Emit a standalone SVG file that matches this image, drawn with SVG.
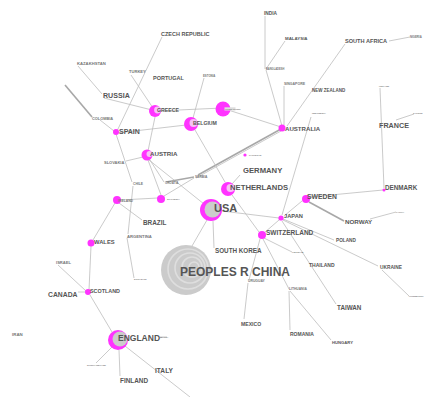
<svg xmlns="http://www.w3.org/2000/svg" width="425" height="397" viewBox="0 0 425 397">
<style>
.e{stroke:#bdbdbd;stroke-width:0.8;fill:none}
.e2{stroke:#a8a8a8;stroke-width:1.6;fill:none}
.n{fill:#ff33ff}
.in{fill:#f6c2f6}
.t{font-family:"Liberation Sans",Arial,sans-serif;font-weight:bold;fill:#555}
.s{font-family:"Liberation Sans",Arial,sans-serif;font-weight:bold;fill:#777}
</style>
<rect width="425" height="397" fill="#fff"/>
<g id="edges">
<line class="e" x1="265" y1="16" x2="265" y2="69"/>
<line class="e" x1="266" y1="69" x2="285" y2="41"/>
<line class="e" x1="266" y1="70" x2="282" y2="126"/>
<line class="e" x1="284" y1="86" x2="284" y2="125"/>
<line class="e" x1="345" y1="44" x2="287" y2="126"/>
<line class="e" x1="389" y1="41" x2="410" y2="37"/>
<line class="e" x1="222" y1="108" x2="281" y2="127"/>
<line class="e" x1="157" y1="111" x2="222" y2="108"/>
<line class="e" x1="104" y1="98" x2="152" y2="110"/>
<line class="e" x1="78" y1="66" x2="102" y2="94"/>
<line class="e" x1="131" y1="75" x2="153" y2="108"/>
<line class="e" x1="162" y1="37" x2="117" y2="131"/>
<line class="e" x1="117" y1="133" x2="186" y2="125"/>
<line class="e" x1="204" y1="78" x2="193" y2="118"/>
<line class="e" x1="155" y1="117" x2="148" y2="151"/>
<line class="e2" x1="65" y1="85" x2="92" y2="117"/>
<line class="e" x1="100" y1="120" x2="114" y2="131"/>
<line class="e" x1="116" y1="134" x2="132" y2="182"/>
<line class="e" x1="133" y1="186" x2="128" y2="234"/>
<line class="e" x1="127" y1="238" x2="134" y2="278"/>
<line class="e" x1="126" y1="161" x2="143" y2="157"/>
<line class="e" x1="149" y1="160" x2="204" y2="204"/>
<line class="e" x1="148" y1="160" x2="161" y2="195"/>
<line class="e" x1="150" y1="160" x2="164" y2="182"/>
<line class="e2" x1="166" y1="182" x2="194" y2="177"/>
<line class="e" x1="164" y1="196" x2="194" y2="178"/>
<line class="e2" x1="198" y1="175" x2="281" y2="129"/>
<line class="e" x1="196" y1="178" x2="281" y2="131"/>
<line class="e" x1="120" y1="200" x2="158" y2="198"/>
<line class="e" x1="119" y1="203" x2="142" y2="220"/>
<line class="e" x1="115" y1="203" x2="93" y2="240"/>
<line class="e" x1="91" y1="246" x2="89" y2="290"/>
<line class="e" x1="78" y1="292" x2="86" y2="292"/>
<line class="e" x1="58" y1="265" x2="86" y2="291"/>
<line class="e" x1="90" y1="295" x2="112" y2="332"/>
<line class="e" x1="112" y1="347" x2="96" y2="363"/>
<line class="e" x1="119" y1="350" x2="120" y2="376"/>
<line class="e" x1="125" y1="346" x2="190" y2="397"/>
<line class="e" x1="160" y1="337" x2="167" y2="337"/>
<line class="e" x1="207" y1="220" x2="192" y2="246"/>
<line class="e" x1="213" y1="221" x2="214" y2="248"/>
<line class="e" x1="222" y1="211" x2="279" y2="218"/>
<line class="e" x1="195" y1="130" x2="225" y2="182"/>
<line class="e" x1="232" y1="195" x2="259" y2="232"/>
<line class="e" x1="232" y1="184" x2="240" y2="175"/>
<line class="e" x1="264" y1="233" x2="279" y2="220"/>
<line class="e" x1="284" y1="216" x2="302" y2="201"/>
<line class="e" x1="310" y1="197" x2="383" y2="190"/>
<line class="e2" x1="309" y1="202" x2="344" y2="221"/>
<line class="e" x1="370" y1="219" x2="396" y2="212"/>
<line class="e" x1="283" y1="219" x2="334" y2="240"/>
<line class="e" x1="283" y1="220" x2="378" y2="266"/>
<line class="e" x1="382" y1="270" x2="409" y2="296"/>
<line class="e" x1="282" y1="221" x2="336" y2="304"/>
<line class="e" x1="264" y1="238" x2="292" y2="252"/>
<line class="e" x1="263" y1="239" x2="289" y2="289"/>
<line class="e" x1="289" y1="291" x2="290" y2="330"/>
<line class="e" x1="290" y1="291" x2="331" y2="340"/>
<line class="e" x1="260" y1="239" x2="249" y2="280"/>
<line class="e" x1="248" y1="283" x2="244" y2="319"/>
<line class="e" x1="311" y1="117" x2="282" y2="215"/>
<line class="e" x1="380" y1="88" x2="384" y2="188"/>
<line class="e" x1="396" y1="120" x2="414" y2="114"/>
</g>
<g id="china">
<circle cx="186" cy="270" r="25" fill="#cbcbcb"/>
<circle cx="188" cy="269" r="20" fill="none" stroke="#dedede" stroke-width="1.6"/>
<circle cx="190" cy="268" r="15" fill="none" stroke="#dedede" stroke-width="1.6"/>
<circle cx="192" cy="267" r="10" fill="none" stroke="#dedede" stroke-width="1.6"/>
<circle cx="194" cy="267" r="5" fill="none" stroke="#dedede" stroke-width="1.4"/>
<text class="t" x="180" y="276" font-size="12">PEOPLES R CHINA</text>
</g>
<g id="usa"><circle class="n" cx="211" cy="210" r="11"/><circle cx="212.5" cy="209.5" r="8" fill="#cccccc"/><text class="t" x="214" y="212" font-size="11">USA</text></g>
<g id="england"><circle class="n" cx="118" cy="340" r="10"/><circle cx="120" cy="339" r="7.5" fill="#cccccc"/><text class="t" x="118" y="340.5" font-size="8.5">ENGLAND</text><text class="s" x="160" y="337.5" font-size="2.5">MALTA</text></g>
<g id="netherlands"><circle class="n" cx="228" cy="189" r="7"/><circle class="in" cx="230.5" cy="188" r="4"/><text class="t" x="230" y="189.5" font-size="7.7">NETHERLANDS</text></g>
<g id="germany"><text class="t" x="243" y="173" font-size="7.7">GERMANY</text></g>
<g id="pakistan"><circle class="n" cx="245" cy="155" r="1.6"/><text class="s" x="249" y="156" font-size="2.5">PAKISTAN</text></g>
<g id="switzerland"><circle class="n" cx="262" cy="235" r="4"/><text class="t" x="266" y="235" font-size="6.5">SWITZERLAND</text></g>
<g id="japan"><circle class="n" cx="281" cy="218" r="2.6"/><text class="t" x="284" y="218" font-size="5.7">JAPAN</text></g>
<g id="southkorea"><text class="t" x="215" y="253.3" font-size="6.3">SOUTH KOREA</text></g>
<g id="sweden"><circle class="n" cx="306" cy="199" r="4"/><text class="t" x="307" y="199.3" font-size="6.8">SWEDEN</text></g>
<g id="denmark"><circle class="n" cx="384" cy="190" r="1.5"/><text class="t" x="385" y="190.3" font-size="6.3">DENMARK</text></g>
<g id="norway"><text class="t" x="345" y="223.7" font-size="6.2">NORWAY</text><text class="s" x="396" y="213" font-size="2.3">LATVIA</text></g>
<g id="poland"><text class="t" x="336" y="242" font-size="4.7">POLAND</text></g>
<g id="france"><text class="t" x="379" y="128.3" font-size="7.2">FRANCE</text><text class="s" x="379" y="87" font-size="2.3">ICELAND</text><text class="s" x="413" y="114" font-size="2.3">CYPRUS</text></g>
<g id="southafrica"><text class="t" x="345" y="43.3" font-size="5.6">SOUTH AFRICA</text><text class="s" x="410" y="37.5" font-size="2.8">NIGERIA</text></g>
<g id="newzealand"><text class="t" x="312" y="92" font-size="4.5">NEW ZEALAND</text></g>
<g id="australia"><circle class="n" cx="282" cy="128" r="3.5"/><text class="t" x="285" y="130.7" font-size="6.1">AUSTRALIA</text><text class="s" x="312" y="114" font-size="2.5">INDONESIA</text></g>
<g id="india"><text class="t" x="264" y="15" font-size="4.8">INDIA</text><text class="s" x="266" y="70" font-size="2.6">BANGLADESH</text></g>
<g id="malaysia"><text class="t" x="285" y="39.7" font-size="4.4">MALAYSIA</text></g>
<g id="singapore"><text class="s" x="284" y="84.5" font-size="3.5">SINGAPORE</text></g>
<g id="hk"><circle class="n" cx="223" cy="109" r="7.5"/><rect x="224.5" y="107.3" width="11" height="3.2" fill="#ddd"/><text class="s" x="225" y="109.8" font-size="2.5">HONG KONG</text></g>
<g id="czech"><text class="t" x="161" y="35.7" font-size="5.5">CZECH REPUBLIC</text></g>
<g id="turkey"><text class="s" x="129" y="73.3" font-size="4.1">TURKEY</text></g>
<g id="portugal"><text class="t" x="153" y="79.7" font-size="5.5">PORTUGAL</text></g>
<g id="estonia"><text class="s" x="203" y="76.5" font-size="2.8">ESTONIA</text></g>
<g id="russia"><text class="t" x="103" y="97.7" font-size="7.1">RUSSIA</text></g>
<g id="kazakhstan"><text class="s" x="77" y="65" font-size="4.2">KAZAKHSTAN</text></g>
<g id="colombia"><text class="s" x="92" y="120" font-size="3.9">COLOMBIA</text></g>
<g id="greece"><circle class="n" cx="155" cy="111" r="6"/><circle class="in" cx="157.5" cy="110" r="3.4"/><text class="t" x="157" y="111.7" font-size="5.2">GREECE</text></g>
<g id="belgium"><circle class="n" cx="191" cy="124" r="7"/><circle class="in" cx="193.5" cy="123" r="4"/><text class="t" x="193" y="125" font-size="5.2">BELGIUM</text></g>
<g id="spain"><circle class="n" cx="116" cy="132" r="3"/><text class="t" x="119" y="134" font-size="7">SPAIN</text></g>
<g id="austria"><circle class="n" cx="147" cy="155" r="5.5"/><circle class="in" cx="149.5" cy="154" r="3"/><text class="t" x="150" y="156.3" font-size="6.2">AUSTRIA</text></g>
<g id="slovakia"><text class="s" x="104" y="163.7" font-size="4">SLOVAKIA</text></g>
<g id="chile"><text class="s" x="133" y="185" font-size="3.3">CHILE</text></g>
<g id="serbia"><text class="s" x="195" y="177.5" font-size="3.3">SERBIA</text></g>
<g id="croatia"><text class="s" x="165" y="184" font-size="3">CROATIA</text></g>
<g id="slovenia"><circle class="n" cx="161" cy="199" r="4"/><text class="s" x="167" y="199.8" font-size="2.5">SLOVENIA</text></g>
<g id="ireland"><circle class="n" cx="117" cy="200" r="4"/><text class="s" x="118" y="201.5" font-size="3.4">IRELAND</text></g>
<g id="brazil"><text class="t" x="143" y="224.7" font-size="6.4">BRAZIL</text></g>
<g id="argentina"><text class="s" x="127" y="238" font-size="4.2">ARGENTINA</text></g>
<g id="ecuador"><text class="s" x="134" y="280" font-size="2.5">ECUADOR</text></g>
<g id="wales"><circle class="n" cx="91" cy="243" r="3.5"/><text class="t" x="94" y="244" font-size="5.8">WALES</text></g>
<g id="israel"><text class="s" x="56" y="263.5" font-size="4.1">ISRAEL</text></g>
<g id="canada"><text class="t" x="48" y="297" font-size="6.8">CANADA</text></g>
<g id="scotland"><circle class="n" cx="88" cy="292" r="3"/><text class="t" x="90" y="293.3" font-size="5.4">SCOTLAND</text></g>
<g id="iran"><text class="s" x="12" y="336" font-size="4.4">IRAN</text></g>
<g id="northireland"><text class="s" x="87" y="366" font-size="2.3">NORTH IRELAND</text></g>
<g id="finland"><text class="t" x="120" y="383" font-size="6.4">FINLAND</text></g>
<g id="italy"><text class="t" x="155" y="373.3" font-size="6.6">ITALY</text></g>
<g id="uruguay"><text class="s" x="248" y="282" font-size="3.4">URUGUAY</text></g>
<g id="mexico"><text class="t" x="241" y="326" font-size="5.1">MEXICO</text></g>
<g id="lithuania"><text class="s" x="289" y="290" font-size="3.3">LITHUANIA</text></g>
<g id="romania"><text class="t" x="290" y="336" font-size="5">ROMANIA</text></g>
<g id="taiwan"><text class="t" x="337" y="309.7" font-size="6.3">TAIWAN</text></g>
<g id="ukraine"><text class="t" x="380" y="269" font-size="4.8">UKRAINE</text><text class="s" x="409" y="297" font-size="2">LUXEMBOURG</text></g>
<g id="hungary"><text class="t" x="332" y="344" font-size="4.2">HUNGARY</text></g>
<g id="thailand"><text class="t" x="309" y="267" font-size="5">THAILAND</text><text class="s" x="292" y="253" font-size="2.5">VIETNAM</text></g>
</svg>
